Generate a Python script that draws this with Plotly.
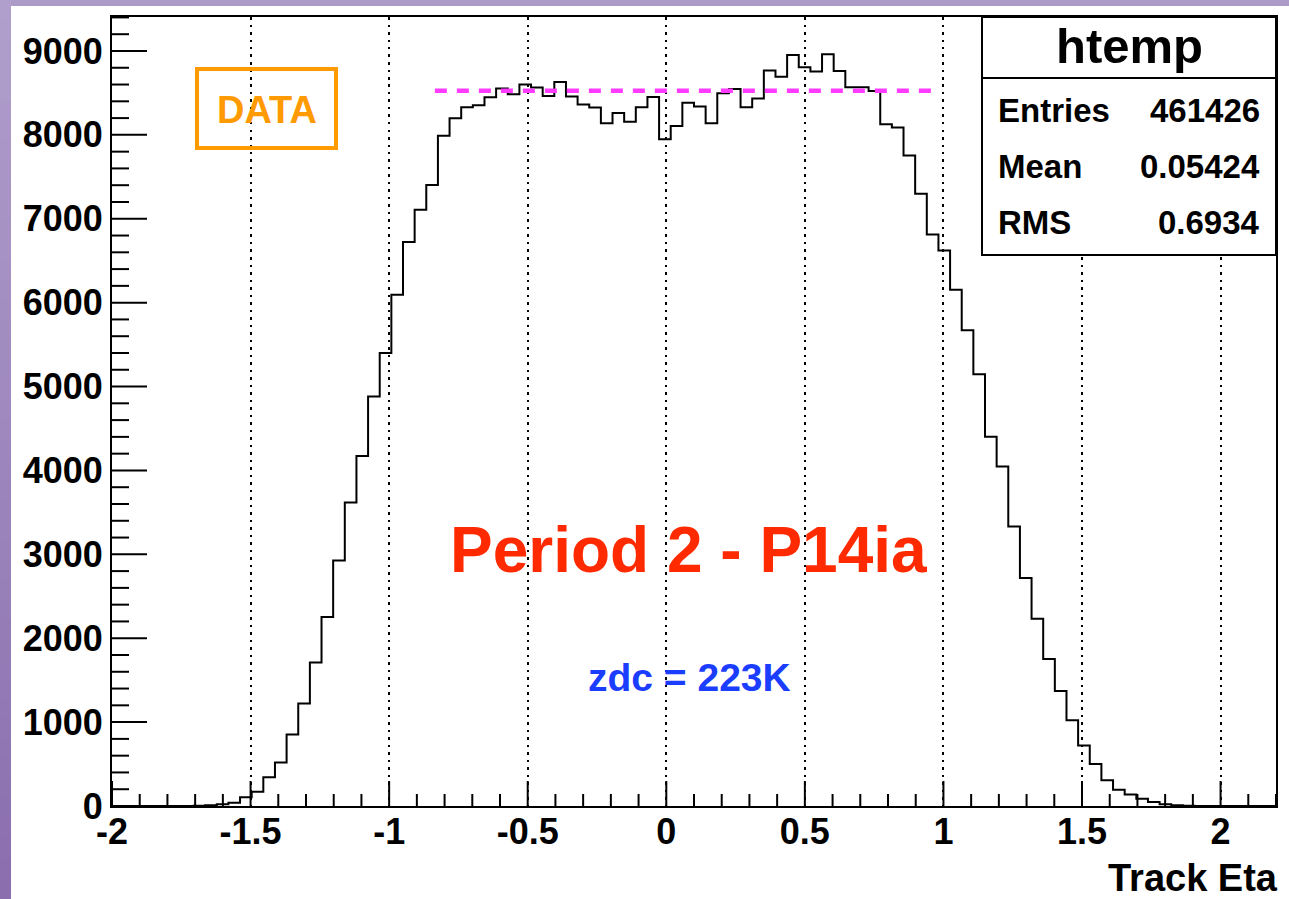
import plotly.graph_objects as go

# ---- histogram: track pseudorapidity, 100 equal bins over the axis range ----
x_min, x_max, n_bins = -2.0, 2.2, 100
counts = [
    0, 0, 0, 0, 0, 0, 1, 3, 10, 20,
    38, 105, 170, 343, 520, 853, 1222, 1710, 2254, 2925,
    3619, 4171, 4881, 5401, 6095, 6722, 7107, 7401, 7988, 8198,
    8329, 8353, 8448, 8552, 8484, 8599, 8564, 8464, 8631, 8456,
    8361, 8325, 8139, 8262, 8155, 8329, 8452, 7948, 8107, 8384,
    8337, 8139, 8496, 8548, 8329, 8433, 8766, 8694, 8952, 8805,
    8754, 8960, 8762, 8568, 8568, 8524, 8127, 8087, 7754, 7298,
    6813, 6623, 6155, 5671, 5146, 4402, 4046, 3333, 2717, 2233,
    1753, 1370, 1023, 721, 500, 308, 195, 136, 85, 47,
    21, 8, 3, 0, 0, 0, 0, 0, 0, 0,
]

x_tick_vals = [-2, -1.5, -1, -0.5, 0, 0.5, 1, 1.5, 2]
x_tick_text = ["-2", "-1.5", "-1", "-0.5", "0", "0.5", "1", "1.5", "2"]
x_minor_step = 0.1
y_tick_vals = [0, 1000, 2000, 3000, 4000, 5000, 6000, 7000, 8000, 9000]
y_tick_text = ["0", "1000", "2000", "3000", "4000", "5000", "6000", "7000", "8000", "9000"]
y_minor_step = 200
y_max = 9405

# reference level marked across the plateau
plateau_level = 8525
plateau_x = [-0.835, 0.977]

stats_title = "htemp"
stats_labels = ["Entries", "Mean", "RMS"]
stats_values = ["461426", "0.05424", "0.6934"]

x_title = "Track Eta"
period_text = "Period 2 - P14ia"
zdc_text = "zdc = 223K"
data_text = "DATA"

# ---- canvas geometry ----
W, H = 1289, 899
L, R, T, B = 112, 13, 17, 93
PLOT_W, PLOT_H = W - L - R, H - T - B
FONT = "Liberation Sans"


def px(x):
    return (x - L) / PLOT_W


def py(y):
    return (H - B - y) / PLOT_H


width = (x_max - x_min) / n_bins
edges = [x_min + i * width for i in range(n_bins + 1)]
step_x = edges
step_y = counts + [0]

fig = go.Figure()
fig.add_trace(go.Scatter(
    x=step_x, y=step_y, mode="lines",
    line=dict(shape="hv", color="black", width=2),
    hoverinfo="skip", showlegend=False,
))

# inward tick marks on the bottom and left axes (lengths given in pixels)
x_per_px = (x_max - x_min) / PLOT_W
y_per_px = y_max / PLOT_H
tx, ty = [], []
n_xminor = int(round((x_max - x_min) / x_minor_step))
for i in range(n_xminor + 1):
    v = round(x_min + i * x_minor_step, 6)
    major = any(abs(v - t) < 1e-6 for t in x_tick_vals)
    tx += [v, v, None]
    ty += [0, (25 if major else 12) * y_per_px, None]
n_yminor = int(y_max // y_minor_step)
for i in range(n_yminor + 1):
    v = i * y_minor_step
    major = v in y_tick_vals
    tx += [x_min, x_min + (35 if major else 17) * x_per_px, None]
    ty += [v, v, None]
fig.add_trace(go.Scatter(
    x=tx, y=ty, mode="lines", line=dict(color="black", width=2),
    hoverinfo="skip", showlegend=False, connectgaps=False,
))

shapes = []

# purple slide backdrop: top band and a shaded strip on the left
shapes.append(dict(type="rect", xref="paper", yref="paper",
                   x0=px(0), x1=px(W), y0=py(6), y1=py(-2),
                   fillcolor="#AC9AC8", line=dict(width=0), layer="below"))
top_rgb = (0xB0, 0x9F, 0xCC)
bot_rgb = (0x8A, 0x6E, 0xAE)
n_strip = 45
for i in range(n_strip):
    f = i / (n_strip - 1)
    c = tuple(int(round(a + (b - a) * f)) for a, b in zip(top_rgb, bot_rgb))
    y0 = H * i / n_strip
    y1 = H * (i + 1) / n_strip
    shapes.append(dict(type="rect", xref="paper", yref="paper",
                       x0=px(-2), x1=px(11), y0=py(y1 + 1), y1=py(y0),
                       fillcolor="rgb(%d,%d,%d)" % c, line=dict(width=0),
                       layer="below"))

# dashed plateau level
shapes.append(dict(type="line", xref="x", yref="y",
                   x0=plateau_x[0], x1=plateau_x[1],
                   y0=plateau_level, y1=plateau_level,
                   line=dict(color="#FF3BFF", width=4.5, dash="12px,10px"),
                   layer="above"))

# statistics box
shapes.append(dict(type="rect", xref="paper", yref="paper",
                   x0=px(982), x1=px(1276), y0=py(255), y1=py(17),
                   fillcolor="white", line=dict(color="black", width=2),
                   layer="above"))
shapes.append(dict(type="line", xref="paper", yref="paper",
                   x0=px(982), x1=px(1276), y0=py(78), y1=py(78),
                   line=dict(color="black", width=2), layer="above"))

# DATA tag frame
shapes.append(dict(type="rect", xref="paper", yref="paper",
                   x0=px(197), x1=px(336), y0=py(148), y1=py(69),
                   line=dict(color="#FF9A00", width=4), layer="above"))

annotations = []


def text(s, x, y, size, color="black", xanchor="center"):
    annotations.append(dict(
        text=s, x=px(x), y=py(y), xref="paper", yref="paper",
        xanchor=xanchor, yanchor="middle", showarrow=False, borderpad=0,
        font=dict(family=FONT, size=size, color=color, weight="bold"),
    ))


text(stats_title, 1129, 46, 49)
for lab, val, yc in zip(stats_labels, stats_values, [110, 166, 223]):
    text(lab, 997, yc, 33, xanchor="left")
    text(val, 1261, yc, 33, xanchor="right")

text(data_text, 267, 110, 38, color="#FF9A00")
text(period_text, 688, 550, 64, color="#FF2A00")
text(zdc_text, 689, 677, 39, color="#1A3DFF")
text(x_title, 1279, 878, 38, xanchor="right")

fig.update_layout(
    template="none",
    width=W, height=H, autosize=False,
    margin=dict(l=L, r=R, t=T, b=B, pad=0),
    paper_bgcolor="white", plot_bgcolor="white",
    shapes=shapes, annotations=annotations,
    showlegend=False,
    font=dict(family=FONT, color="black"),
)

fig.update_xaxes(
    range=[x_min, x_max], tickmode="array",
    tickvals=x_tick_vals, ticktext=x_tick_text,
    ticks="",
    showgrid=True, gridcolor="black", gridwidth=2, griddash="2.5px,5px",
    zeroline=False, showline=True, linecolor="black", linewidth=2,
    mirror=True, ticklabelstandoff=-7, automargin=False,
    tickfont=dict(family=FONT, size=36, color="black", weight="bold"),
)
fig.update_yaxes(
    range=[0, y_max], tickmode="array",
    tickvals=y_tick_vals, ticktext=y_tick_text,
    ticks="",
    showgrid=False, zeroline=False,
    showline=True, linecolor="black", linewidth=2, mirror=True,
    automargin=False,
    tickfont=dict(family=FONT, size=36, color="black", weight="bold"),
)

fig.write_html("out.html")
